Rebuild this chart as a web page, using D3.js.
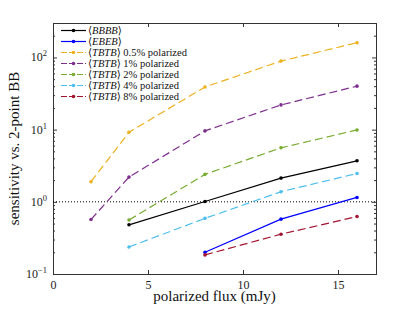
<!DOCTYPE html>
<html>
<head>
<meta charset="utf-8">
<script src="https://cdn.jsdelivr.net/npm/d3@7"></script>
<style>
  body { margin: 0; background: #fff; }
  svg { font-family: "Liberation Serif", "DejaVu Serif", serif; }
</style>
</head>
<body>
<div id="chart"></div>
<script>
// Data
const fluxes = [2, 4, 8, 12, 16];
const bbbb = [null, 0.48, 1.01, 2.13, 3.7];
const ebeb = [null, null, 0.2, 0.575, 1.15];
const tbtb05 = [1.9, 9.2, 39, 89, 160];
const tbtb1 = [0.57, 2.2, 9.6, 22, 40];
const tbtb2 = [null, 0.56, 2.4, 5.6, 9.9];
const tbtb4 = [null, 0.237, 0.59, 1.38, 2.47];
const tbtb8 = [null, null, 0.184, 0.356, 0.625];
const xTicks = [0, 5, 10, 15];
const yTicks = [0.1, 1, 10, 100];

const series = [
  { math: "BBBB", extra: "", values: bbbb, color: "#000000", dash: null },
  { math: "EBEB", extra: "", values: ebeb, color: "#0000ff", dash: null },
  { math: "TBTB", extra: "0.5% polarized", values: tbtb05, color: "#EDB120", dash: "8,4" },
  { math: "TBTB", extra: "1% polarized", values: tbtb1, color: "#7E2F8E", dash: "8,4" },
  { math: "TBTB", extra: "2% polarized", values: tbtb2, color: "#77AC30", dash: "8,4" },
  { math: "TBTB", extra: "4% polarized", values: tbtb4, color: "#4DBEEE", dash: "8,4" },
  { math: "TBTB", extra: "8% polarized", values: tbtb8, color: "#A2142F", dash: "8,4" }
];

const width = 415, height = 312;
const margin = { top: 23, right: 39, bottom: 38, left: 53 };
const innerWidth = width - margin.left - margin.right;
const innerHeight = height - margin.top - margin.bottom;

const svg = d3.select("#chart")
  .append("svg")
    .attr("width", width)
    .attr("height", height);

const innerChart = svg
  .append("g")
    .attr("transform", `translate(${margin.left}, ${margin.top})`);

// Scales
const xScale = d3.scaleLinear()
  .domain([0, 17])
  .range([0, innerWidth]);

const yScale = d3.scaleLog()
  .domain([0.1, 300])
  .range([innerHeight, 0]);

// Minor log ticks
const minorTicks = [];
[0.1, 1, 10, 100].forEach(base => {
  for (let k = 2; k <= 9; k++) {
    const v = base * k;
    if (v <= 300) minorTicks.push(v);
  }
});

const axisColor = "#333";

// Bottom & top axes (ticks inward)
const bottomAxis = d3.axisBottom(xScale)
  .tickValues(xTicks)
  .tickFormat(d3.format("d"))
  .tickSize(-4)
  .tickPadding(6);
innerChart.append("g")
    .attr("class", "axis-x")
    .attr("transform", `translate(0, ${innerHeight})`)
    .call(bottomAxis);

innerChart.append("g")
    .attr("class", "axis-x-top")
    .call(d3.axisTop(xScale).tickValues(xTicks).tickFormat("").tickSize(-4));

// Left & right axes
const leftAxis = d3.axisLeft(yScale)
  .tickValues(yTicks)
  .tickFormat("")
  .tickSize(-4);
innerChart.append("g")
    .attr("class", "axis-y")
    .call(leftAxis);
innerChart.append("g")
    .attr("class", "axis-y-minor")
    .call(d3.axisLeft(yScale).tickValues(minorTicks).tickFormat("").tickSize(-2));

innerChart.append("g")
    .attr("class", "axis-y-right")
    .attr("transform", `translate(${innerWidth}, 0)`)
    .call(d3.axisRight(yScale).tickValues(yTicks).tickFormat("").tickSize(-4));
innerChart.append("g")
    .attr("class", "axis-y-right-minor")
    .attr("transform", `translate(${innerWidth}, 0)`)
    .call(d3.axisRight(yScale).tickValues(minorTicks).tickFormat("").tickSize(-2));

svg.selectAll(".domain").attr("stroke", axisColor).attr("stroke-width", 1);
svg.selectAll(".tick line").attr("stroke", axisColor);
svg.selectAll(".axis-x text")
  .attr("font-family", "Liberation Serif, serif")
  .attr("font-size", 12)
  .attr("fill", "#222");

// Y tick labels as 10^n
yTicks.forEach(t => {
  const exp = Math.round(Math.log10(t));
  const label = innerChart.append("text")
    .attr("x", -6)
    .attr("y", yScale(t) + 4)
    .attr("text-anchor", "end")
    .attr("font-size", 12)
    .attr("fill", "#222");
  label.append("tspan").text("10");
  label.append("tspan")
    .attr("dy", -5)
    .attr("font-size", 8.5)
    .text(exp < 0 ? "\u2212" + Math.abs(exp) : exp);
});

// Dotted reference line at 1
innerChart.append("line")
    .attr("x1", xScale(0))
    .attr("x2", xScale(17))
    .attr("y1", yScale(1))
    .attr("y2", yScale(1))
    .attr("stroke", "#000")
    .attr("stroke-width", 1)
    .attr("stroke-dasharray", "1,2");

// Series
series.forEach(s => {
  const pts = fluxes.map((f, i) => ({ x: f, y: s.values[i] })).filter(d => d.y !== null);
  const line = d3.line()
    .x(d => xScale(d.x))
    .y(d => yScale(d.y));
  innerChart.append("path")
      .attr("d", line(pts))
      .attr("fill", "none")
      .attr("stroke", s.color)
      .attr("stroke-width", 1.2)
      .attr("stroke-dasharray", s.dash);
  innerChart.selectAll(null)
    .data(pts)
    .join("circle")
      .attr("cx", d => xScale(d.x))
      .attr("cy", d => yScale(d.y))
      .attr("r", 1.8)
      .attr("fill", s.color);
});

// Legend
const legend = innerChart.append("g")
    .attr("transform", "translate(8, 7.5)");
series.forEach((s, i) => {
  const g = legend.append("g").attr("transform", `translate(0, ${i * 11})`);
  g.append("line")
      .attr("x1", 0).attr("x2", 25)
      .attr("y1", 0).attr("y2", 0)
      .attr("stroke", s.color)
      .attr("stroke-width", 1.2)
      .attr("stroke-dasharray", s.dash ? "6,2" : null);
  g.append("circle")
      .attr("cx", 12.5).attr("cy", 0).attr("r", 1.8)
      .attr("fill", s.color);
  const t = g.append("text")
      .attr("x", 27)
      .attr("y", 3.5)
      .attr("font-size", 10.5)
      .attr("fill", "#111");
  t.append("tspan").text("\u27E8");
  t.append("tspan").attr("font-style", "italic").text(s.math);
  t.append("tspan").text("\u27E9" + (s.extra ? " " + s.extra : ""));
});

// Axis titles
svg.append("text")
    .attr("x", margin.left + innerWidth / 2)
    .attr("y", 301)
    .attr("text-anchor", "middle")
    .attr("font-size", 15)
    .attr("fill", "#111")
    .text("polarized flux (mJy)");

svg.append("text")
    .attr("transform", `translate(19, ${margin.top + innerHeight / 2}) rotate(-90)`)
    .attr("text-anchor", "middle")
    .attr("font-size", 15)
    .attr("fill", "#111")
    .text("sensitivity vs. 2-point BB");
</script>
</body>
</html>
